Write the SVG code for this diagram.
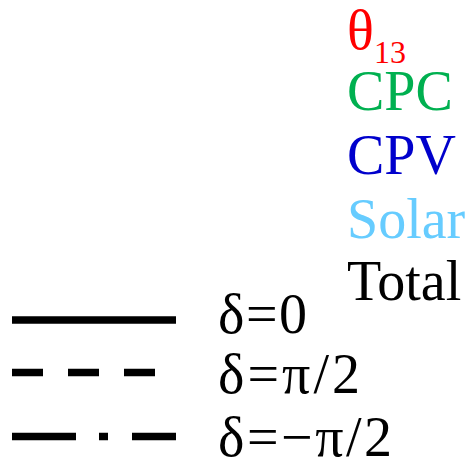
<svg xmlns="http://www.w3.org/2000/svg" width="471" height="471" viewBox="0 0 471 471">
<style>
.lbl{font-family:"Liberation Serif","Times New Roman",serif;font-size:56px}
.sub{font-family:"Liberation Serif","Times New Roman",serif;font-size:32px}
.ln{stroke:#000;stroke-width:7.5;fill:none}
</style>
<rect width="471" height="471" fill="#fff"/>
<g id="legend-colors">
<g id="theta13"><text class="lbl" x="347" y="49" fill="#ff0000" font-size="53">θ</text><text class="sub" x="374" y="63" fill="#ff0000">13</text></g>
<g id="cpc"><text class="lbl" x="347" y="110" fill="#00b050">CPC</text></g>
<g id="cpv"><text class="lbl" x="347" y="174" fill="#0000cc">CPV</text></g>
<g id="solar"><text class="lbl" x="347" y="238" fill="#66ccff">Solar</text></g>
<g id="total"><text class="lbl" x="347" y="300" fill="#000">Total</text></g>
</g>
<g id="legend-lines">
<g id="delta0"><line class="ln" x1="12" y1="320" x2="176" y2="320"/><text class="lbl" x="218" y="333" textLength="89">δ=0</text></g>
<g id="deltapi2"><line class="ln" x1="12" y1="372.5" x2="176" y2="372.5" stroke-dasharray="31 25"/><text class="lbl" x="218" y="393" textLength="142">δ=π/2</text></g>
<g id="deltampi2"><line class="ln" x1="12" y1="436.5" x2="176" y2="436.5" stroke-dasharray="64 23 9 24"/><text class="lbl" x="218" y="456" textLength="174">δ=−π/2</text></g>
</g>
</svg>
